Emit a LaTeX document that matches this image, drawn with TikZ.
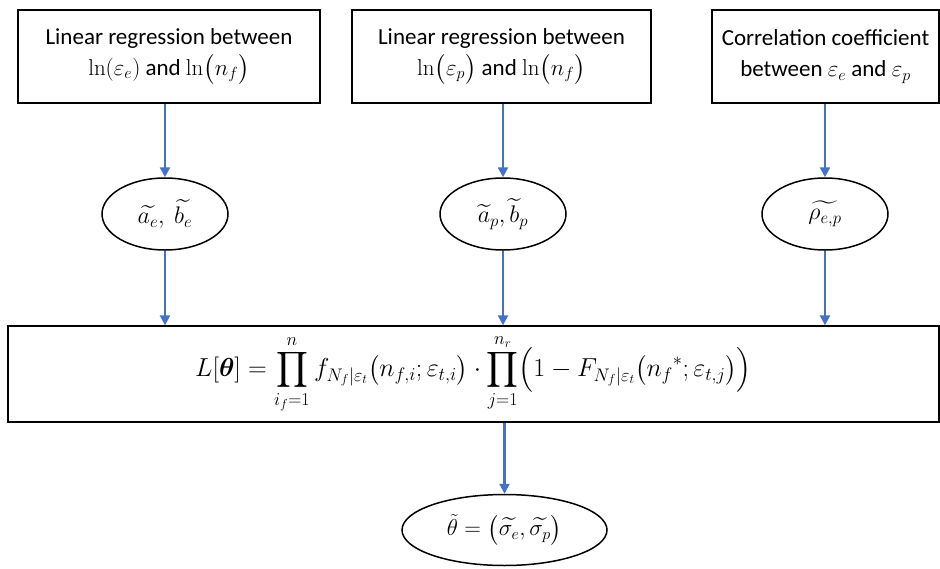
\RequirePackage{fix-cm}
\documentclass[tikz,border=0pt]{standalone}
\usepackage{amsmath}
\usepackage[no-math]{fontspec}
\setmainfont{Carlito}
\usepackage{tikz}
\usetikzlibrary{shapes.geometric, arrows.meta}
\definecolor{flowblue}{RGB}{68, 114, 196}

\begin{document}
\begin{tikzpicture}[x=1pt, y=-1pt,
          inbox/.style={rectangle, draw=black, line width=1.3pt, align=center, inner sep=2pt, font=\fontsize{23}{31}\selectfont, minimum height=93pt},
          estim/.style={ellipse, draw=black, line width=1.5pt, minimum width=126pt, minimum height=72pt, inner sep=0pt, font=\fontsize{24}{28}\selectfont},
          likbox/.style={rectangle, draw=black, line width=1.3pt, minimum width=931pt, minimum height=96pt, inner sep=0pt, font=\fontsize{26}{30}\selectfont},
          flow/.style={-{Triangle[length=10pt, width=10pt]}, line width=2.3pt, flowblue}
        ]
          \useasboundingbox (0,0) rectangle (940,568);

          % Input boxes
          \node[inbox, minimum width=302pt] (regE) at (169, 56.5) {Linear regression between\\$\ln(\varepsilon_e)$ and $\ln\bigl(n_f\bigr)$};
          \node[inbox, minimum width=299pt] (regP) at (501.5, 56.5) {Linear regression between\\$\ln\bigl(\varepsilon_p\bigr)$ and $\ln\bigl(n_f\bigr)$};
          \node[inbox, minimum width=227pt] (corr) at (825.5, 56.5) {Correlation coefficient\\between $\varepsilon_e$ and $\varepsilon_p$};

          % Estimates
          \node[estim] (estE) at (165, 214) {$\widetilde{a_e},\ \widetilde{b_e}$};
          \node[estim] (estP) at (503, 214) {$\widetilde{a}_p, \widetilde{b}_p$};
          \node[estim] (estR) at (825, 214) {$\widetilde{\rho_{e,p}}$};

          % Likelihood
          \node[likbox] (lik) at (473.5, 374) {$\displaystyle L[\boldsymbol{\theta}] = \prod_{i_f=1}^{n} f_{N_f|\varepsilon_t}\bigl(n_{f,i};\varepsilon_{t,i}\bigr)\cdot\prod_{j=1}^{n_r}\Bigl(1 - F_{N_f|\varepsilon_t}\bigl({n_f}^{*};\varepsilon_{t,j}\bigr)\Bigr)$};

          % Result
          \node[estim, font=\fontsize{23}{28}\selectfont, minimum width=205pt, minimum height=71pt] (theta) at (504.5, 530) {$\tilde{\theta} = \bigl(\widetilde{\sigma_e}, \widetilde{\sigma_p}\bigr)$};

          % Connections
          \draw[flow] (regE.south -| estE.north) -- (estE.north);
          \draw[flow] (regP.south -| estP.north) -- (estP.north);
          \draw[flow] (corr.south -| estR.north) -- (estR.north);

          \draw[flow] (estE.south) -- (estE.south |- lik.north);
          \draw[flow] (estP.south) -- (estP.south |- lik.north);
          \draw[flow] (estR.south) -- (estR.south |- lik.north);

          \draw[flow] (theta.north |- lik.south) -- (theta.north);
        \end{tikzpicture}
\end{document}
